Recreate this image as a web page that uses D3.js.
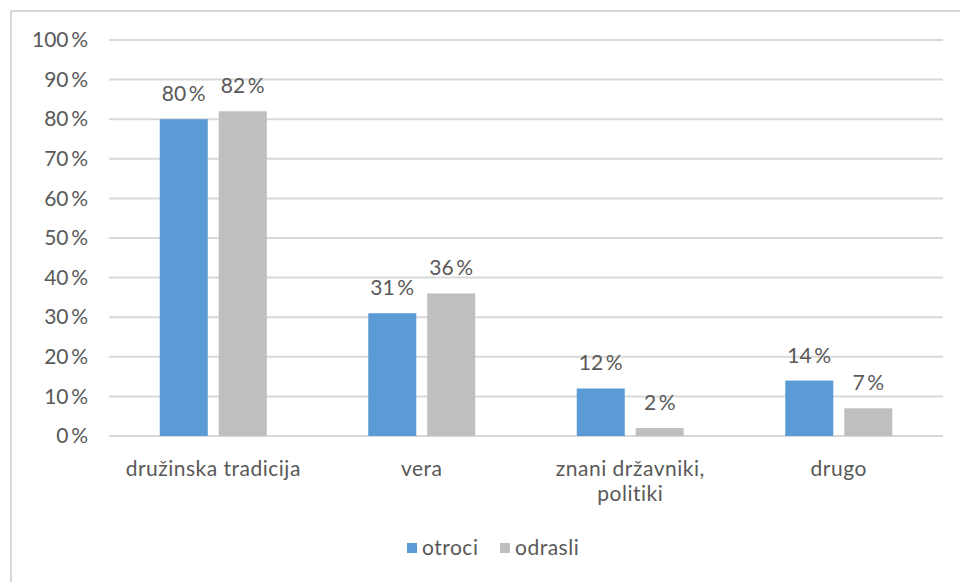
<!DOCTYPE html>
<html>
<head>
<meta charset="utf-8">
<script src="https://cdn.jsdelivr.net/npm/d3@7"></script>
<style>
  body { margin: 0; background: #fff; }
  svg text { font-family: Lato, "Open Sans", sans-serif; fill: #595959; }
</style>
</head>
<body>
<svg width="960" height="582"></svg>
<script>
var svg = d3.select("svg"),
    width = +svg.attr("width"),
    height = +svg.attr("height");

var categories = [["družinska tradicija"], ["vera"], ["znani državniki,", "politiki"], ["drugo"]];
var series = ["otroci", "odrasli"];
var otroci = [0.80, 0.31, 0.12, 0.14];
var odrasli = [0.82, 0.36, 0.02, 0.07];
var yTicks = [0, 0.1, 0.2, 0.3, 0.4, 0.5, 0.6, 0.7, 0.8, 0.9, 1];
var colors = ["#5B9BD5", "#BFBFBF"];

var values = [otroci, odrasli];
var catKeys = categories.map(c => c.join(" "));
var fs = 21;

// chart frame (only top and left edge are in the picture)
svg.append("path")
  .attr("d", "M11,582 V11 H960")
  .attr("fill", "none")
  .attr("stroke", "#D9D9D9")
  .attr("stroke-width", 2);

var x0 = d3.scaleBand()
  .domain(catKeys)
  .range([109, 943]);

var x1 = d3.scaleBand()
  .domain(series)
  .range([50.75, x0.bandwidth() - 50.75])
  .paddingInner(0.186);

var y = d3.scaleLinear()
  .domain([0, 1])
  .range([436, 40]);

var fmt = v => Math.round(v * 100) + "\u2009%";

// grid
svg.append("g")
  .selectAll("line")
  .data(yTicks)
  .enter()
  .append("line")
  .attr("x1", 109)
  .attr("x2", 943)
  .attr("y1", d => y(d))
  .attr("y2", d => y(d))
  .attr("stroke", "#D9D9D9")
  .attr("stroke-width", 2);

// y axis labels
var yAxis = svg.append("g")
  .attr("transform", "translate(88,0)")
  .call(d3.axisLeft(y).tickValues(yTicks).tickFormat(fmt).tickSize(0).tickPadding(0));
yAxis.select(".domain").remove();
yAxis.selectAll("text")
  .attr("font-size", fs)
  .attr("fill", "#595959")
  .attr("font-family", "Lato, sans-serif");

// bars
var group = svg.append("g")
  .selectAll("g")
  .data(catKeys)
  .enter()
  .append("g")
  .attr("transform", d => "translate(" + x0(d) + ",0)");

group.selectAll("rect")
  .data((d, i) => series.map((s, si) => ({ s: s, v: values[si][i], si: si })))
  .enter()
  .append("rect")
  .attr("x", d => x1(d.s))
  .attr("width", x1.bandwidth())
  .attr("y", d => y(d.v))
  .attr("height", d => y(0) - y(d.v))
  .attr("fill", d => colors[d.si]);

group.selectAll("text.val")
  .data((d, i) => series.map((s, si) => ({ s: s, v: values[si][i], si: si })))
  .enter()
  .append("text")
  .attr("class", "val")
  .attr("x", d => x1(d.s) + x1.bandwidth() / 2)
  .attr("y", d => y(d.v) - 18)
  .attr("text-anchor", "middle")
  .attr("font-size", fs)
  .text(d => fmt(d.v));

// category labels
var xl = svg.append("g")
  .selectAll("text")
  .data(categories)
  .enter()
  .append("text")
  .attr("x", (d, i) => x0(catKeys[i]) + x0.bandwidth() / 2)
  .attr("y", 476)
  .attr("text-anchor", "middle")
  .attr("letter-spacing", 0.5)
  .attr("font-size", fs);

xl.selectAll("tspan")
  .data(d => d)
  .enter()
  .append("tspan")
  .attr("x", function() { return d3.select(this.parentNode).attr("x"); })
  .attr("dy", (d, i) => i ? 25 : 0)
  .text(d => d);

// legend
var legend = svg.append("g")
  .selectAll("g")
  .data(series)
  .enter()
  .append("g")
  .attr("transform", (d, i) => "translate(" + [407, 500][i] + ",543)");

legend.append("rect")
  .attr("width", 10)
  .attr("height", 10)
  .attr("fill", (d, i) => colors[i]);

legend.append("text")
  .attr("x", 15)
  .attr("y", 12)
  .attr("letter-spacing", 0.5)
  .attr("font-size", fs)
  .text(d => d);
</script>
</body>
</html>
